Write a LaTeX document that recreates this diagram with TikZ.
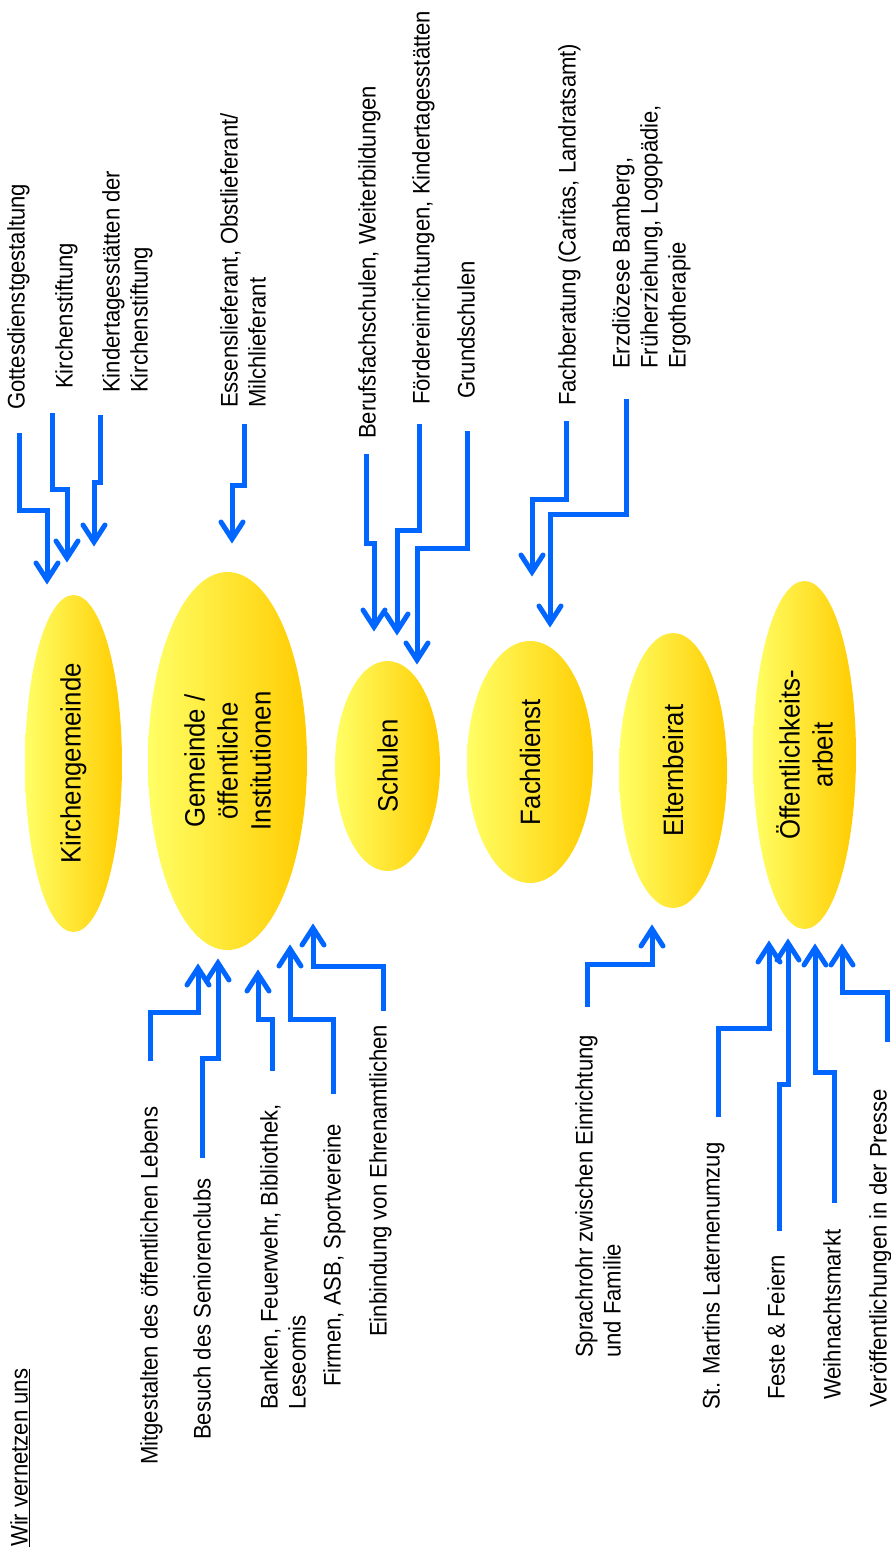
\documentclass[tikz,border=0pt]{standalone}
\usepackage{fontspec}
\setmainfont[FakeStretch=0.92]{Liberation Sans}
\usetikzlibrary{calc,shapes.geometric}
\definecolor{lineblue}{HTML}{0066FF}
\definecolor{ylight}{HTML}{FFFF66}
\definecolor{ydark}{HTML}{FFCC00}
\begin{document}
\begin{tikzpicture}[x=1pt,y=-1pt,
 lab/.style={rotate=90,anchor=north west,inner sep=0pt,align=left,font=\fontsize{24}{28}\selectfont},
 hub/.style={ellipse,rotate=90,inner sep=0pt,left color=ylight,right color=ydark,draw=none,align=center,font=\fontsize{28}{33}\selectfont},
 link/.style={draw=lineblue,line width=5pt},
 chev/.style={draw=lineblue,line width=5pt,line cap=round,line join=miter}]
\useasboundingbox (0,0) rectangle (891,1556);

% hubs (minimum width = vertical extent, minimum height = horizontal extent)
\node[hub,minimum width=337pt,minimum height=97pt] (kirche) at (73.5,763.5) {Kirchengemeinde};
\node[hub,minimum width=378pt,minimum height=159pt] (gemeinde) at (227.5,761) {Gemeinde /\\öffentliche\\Institutionen};
\node[hub,minimum width=210pt,minimum height=105pt] (schulen) at (387.5,766) {Schulen};
\node[hub,minimum width=242pt,minimum height=126pt] (fach) at (530,762) {Fachdienst};
\node[hub,minimum width=275pt,minimum height=108pt] (eltern) at (673,770.5) {Elternbeirat};
\node[hub,minimum width=348pt,minimum height=103pt] (oeff) at (804.5,755) {Öffentlichkeits-\\arbeit};

% labels
\node[lab] (l1) at (7,410) {Gottesdienstgestaltung};
\node[lab] (l2) at (55,389) {Kirchenstiftung};
\node[lab] (l3) at (102,393) {Kindertagesstätten der\\Kirchenstiftung};
\node[lab] (l4) at (220,408) {Essenslieferant, Obstlieferant/\\Milchlieferant};
\node[lab] (l5) at (358,439) {Berufsfachschulen, Weiterbildungen};
\node[lab] (l6) at (412,405) {Fördereinrichtungen, Kindertagesstätten};
\node[lab] (l7) at (457,399) {Grundschulen};
\node[lab] (l8) at (558,406) {Fachberatung (Caritas, Landratsamt)};
\node[lab] (l9) at (612,369) {Erzdiözese Bamberg,\\Früherziehung, Logopädie,\\Ergotherapie};
\node[lab] (l10) at (140,1465) {Mitgestalten des öffentlichen Lebens};
\node[lab] (l11) at (193,1440) {Besuch des Seniorenclubs};
\node[lab] (l12) at (260,1410) {Banken, Feuerwehr, Bibliothek,\\Leseomis};
\node[lab] (l13) at (323,1387) {Firmen, ASB, Sportvereine};
\node[lab] (l14) at (369,1337) {Einbindung von Ehrenamtlichen};
\node[lab] (l15) at (575,1358) {Sprachrohr zwischen Einrichtung\\und Familie};
\node[lab] (l16) at (702,1410) {St. Martins Laternenumzug};
\node[lab] (l17) at (767,1400) {Feste \& Feiern};
\node[lab] (l18) at (823,1400) {Weihnachtsmarkt};
\node[lab] (l19) at (869,1408) {Veröffentlichungen in der Presse};
\node[lab] (w) at (10,1547) {\underline{Wir vernetzen uns}};

% connector points: s = start near label, m = jog, t = outer tip at hub
\coordinate (s1) at (19,433);  \coordinate (m1) at (47,510);  \coordinate (t1) at (47,585);
\coordinate (s2) at (52,413);  \coordinate (m2) at (67,489);  \coordinate (t2) at (67,563);
\coordinate (s3) at (100,415); \coordinate (m3) at (94,482);  \coordinate (t3) at (94,547);
\coordinate (s4) at (244,424); \coordinate (m4) at (232,485); \coordinate (t4) at (232,544);
\coordinate (s5) at (366,454); \coordinate (m5) at (374,543); \coordinate (t5) at (374,632);
\coordinate (s6) at (419,424); \coordinate (m6) at (397,530); \coordinate (t6) at (397,636);
\coordinate (s7) at (467,431); \coordinate (m7) at (417,548); \coordinate (t7) at (417,665);
\coordinate (s8) at (566,421); \coordinate (m8) at (532,499); \coordinate (t8) at (532,577);
\coordinate (s9) at (626,399); \coordinate (m9) at (550,514); \coordinate (t9) at (550,628);

\coordinate (s10) at (150,1061); \coordinate (m10) at (198,1012); \coordinate (t10) at (198,963);
\coordinate (s11) at (202,1158); \coordinate (m11) at (218,1058); \coordinate (t11) at (218,958);
\coordinate (s12) at (272,1071); \coordinate (m12) at (258,1019); \coordinate (t12) at (258,969);
\coordinate (s13) at (333,1094); \coordinate (m13) at (290,1019); \coordinate (t13) at (290,944);
\coordinate (s14) at (383,1011); \coordinate (m14) at (313,966);  \coordinate (t14) at (313,923);
\coordinate (s15) at (587,1007); \coordinate (m15) at (652,964);  \coordinate (t15) at (652,924);
\coordinate (s16) at (718,1117); \coordinate (m16) at (769,1028); \coordinate (t16) at (769,940);
\coordinate (s17) at (779,1231); \coordinate (m17) at (788,1084); \coordinate (t17) at (788,938);
\coordinate (s18) at (834,1203); \coordinate (m18) at (815,1072); \coordinate (t18) at (815,943);
\coordinate (s19) at (887,1042); \coordinate (m19) at (842,992);  \coordinate (t19) at (842,943);

% d = +1 for downward arrows, -1 for upward arrows
\foreach \i/\d in {1/1,2/1,3/1,4/1,5/1,6/1,7/1,8/1,9/1,
                   10/-1,11/-1,12/-1,13/-1,14/-1,15/-1,16/-1,17/-1,18/-1,19/-1} {
  \draw[link] (s\i) |- (m\i) -- ($(t\i)+(0,-5*\d)$);
  \draw[chev] ($(t\i)+(-11,-22*\d)$) -- ($(t\i)+(0,-5*\d)$) -- ($(t\i)+(11,-22*\d)$);
}
\end{tikzpicture}
\end{document}
